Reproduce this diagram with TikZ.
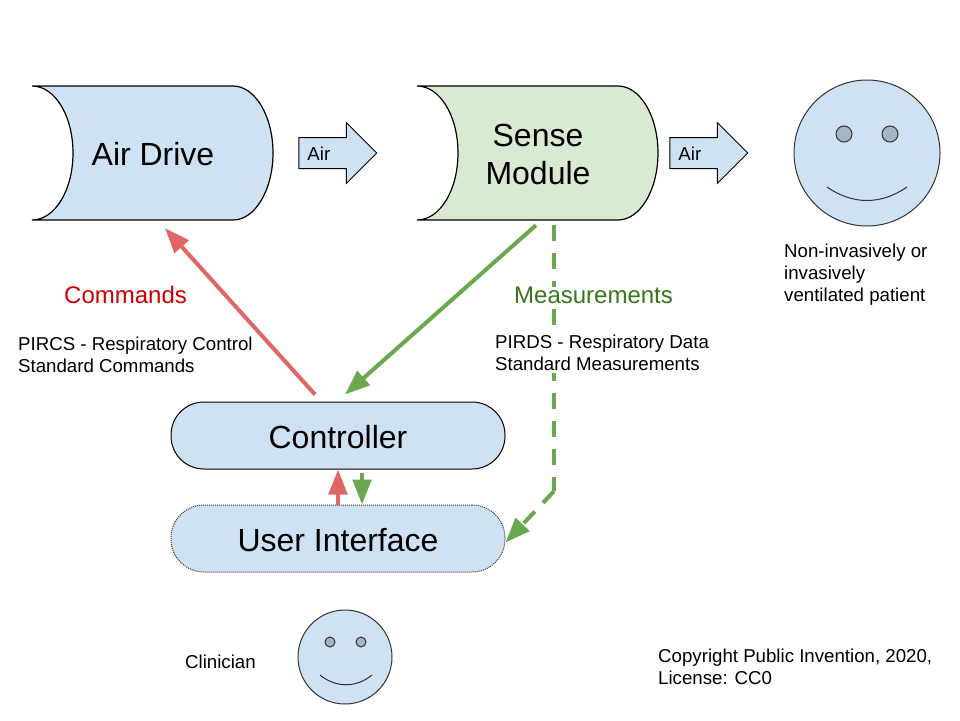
\documentclass[tikz,border=0pt]{standalone}
\usepackage{fontspec}
\setmainfont{Liberation Sans}
\usepackage{tikz}
\usetikzlibrary{shapes.arrows, arrows.meta, positioning, calc}
\definecolor{boxblue}{HTML}{CFE2F3}
\definecolor{boxgreen}{HTML}{D9EAD3}
\definecolor{eyegray}{HTML}{A6B5C2}
\definecolor{cmdred}{HTML}{E06666}
\definecolor{measgreen}{HTML}{6AA84F}
\definecolor{cmdtext}{HTML}{CC0000}
\definecolor{meastext}{HTML}{38761D}

\begin{document}
\begin{tikzpicture}[
        x=1pt, y=-1pt,
        drum/.style={draw=black, line width=1.2pt},
        drumlabel/.style={minimum width=241pt, minimum height=134pt, align=center, inner sep=0pt, font=\fontsize{32}{38}\selectfont},
        pill/.style={rectangle, rounded corners=33pt, fill=boxblue, minimum width=334pt, minimum height=67pt, text height=26pt, font=\fontsize{32}{38}\selectfont},
        airflow/.style={single arrow, draw=black, fill=boxblue, line width=1pt, single arrow head extend=15pt, single arrow head indent=0pt, minimum width=60pt, minimum height=78pt, inner sep=0pt, text height=15pt, text depth=15pt},
        note/.style={align=left, anchor=west, inner sep=0pt, font=\fontsize{18.67}{22}\selectfont},
        heading/.style={anchor=west, inner sep=0pt, font=\fontsize{24}{28}\selectfont},
        face/.style={circle, draw=black!80, fill=boxblue, line width=1pt, inner sep=0pt},
        eye/.style={circle, draw=black!80, fill=eyegray, line width=1pt, inner sep=0pt},
        cmdarrow/.style={draw=cmdred, line width=4pt, -{Triangle[length=25pt, width=18.5pt, fill=cmdred]}},
        measline/.style={draw=measgreen, line width=4pt},
        measarrow/.style={measline, -{Triangle[length=25pt, width=18.5pt, fill=measgreen]}}
    ]
        \useasboundingbox (0,0) rectangle (960,720);

        % Air path
        \draw[drum, fill=boxblue] (32,86) -- (233,86) .. controls (255,86) and (273,116) .. (273,153) .. controls (273,190) and (255,220) .. (233,220) -- (32,220) .. controls (55,220) and (73,190) .. (73,153) .. controls (73,116) and (55,86) .. (32,86);
        \draw[drum, fill=boxgreen] (417,86) -- (618,86) .. controls (640,86) and (658,116) .. (658,153) .. controls (658,190) and (640,220) .. (618,220) -- (417,220) .. controls (440,220) and (458,190) .. (458,153) .. controls (458,116) and (440,86) .. (417,86);
        \node[drumlabel] (airdrive) at (153,154) {Air Drive};
        \node[drumlabel] (sense) at (538,154) {Sense\\Module};

        \node[airflow] (air1) at (330,153) {};
        \node[airflow] (air2) at (701,153) {};
        \node[note, right=9pt of air1.west, yshift=-1pt] (air1text) {Air};
        \node[note, right=9pt of air2.west, yshift=-1pt] (air2text) {Air};

        % Patient
        \node[face, minimum size=146pt] (patient) at (867,153) {};
        \node[eye, minimum size=16pt] (patienteyeL) at (844,134) {};
        \node[eye, minimum size=16pt] (patienteyeR) at (890,134) {};
        \draw[black!80, line width=1pt] (827,187) .. controls (853,205) and (881,205) .. (907,187);
        \node[note] (patientnote) at (784,275) {Non-invasively or\\invasively\\ventilated patient};

        % Controller and UI
        \node[pill, draw=black, line width=1pt] (controller) at (338,435.5) {Controller};
        \node[pill, draw=black!80, densely dotted, line width=1pt] (ui) at (338,538.5) {User Interface};

        % Connections
        \coordinate (measbend) at ($(sense.south)+(16,270)$);
        \draw[cmdarrow] ($(controller.north)+(-23,-7)$) -- ($(airdrive.south)+(12,7)$);
        \draw[measarrow] ($(sense.south)+(-2,4)$) -- ($(controller.north)+(7,-7)$);
        \draw[measline, dash pattern=on 16pt off 12pt] ($(sense.south)+(16,4)$) -- (measbend);
        \draw[measarrow, dash pattern=on 16pt off 12pt] (measbend) -- ($(ui.east)+(0,4)$);
        \draw[cmdarrow] (ui.north) -- (controller.south);
        \draw[measarrow] ($(controller.south)+(24,3)$) -- ($(ui.north)+(24,0)$);

        % Labels
        \node[heading, text=cmdtext] (cmdlabel) at (64,295) {Commands};
        \node[note] (pircs) at (18,355) {PIRCS - Respiratory Control\\Standard Commands};
        \node[heading, text=meastext, fill=white] (measlabel) at (514,295) {Measurements};
        \node[note, fill=white, inner ysep=2pt] (pirds) at (495,353) {PIRDS - Respiratory Data\\Standard Measurements};

        % Clinician
        \node[face, minimum size=94pt] (clinician) at (345,657) {};
        \node[eye, minimum size=10pt] (clinicianeyeL) at (330,642) {};
        \node[eye, minimum size=10pt] (clinicianeyeR) at (361,642) {};
        \draw[black!80, line width=1pt] (320,675) .. controls (336,688) and (356,688) .. (372,675);
        \node[note] (clinicianlabel) at (185,662) {Clinician};

        \node[note] (copyright) at (658,667) {Copyright Public Invention, 2020,\\License: CC0};
    \end{tikzpicture}
\end{document}
